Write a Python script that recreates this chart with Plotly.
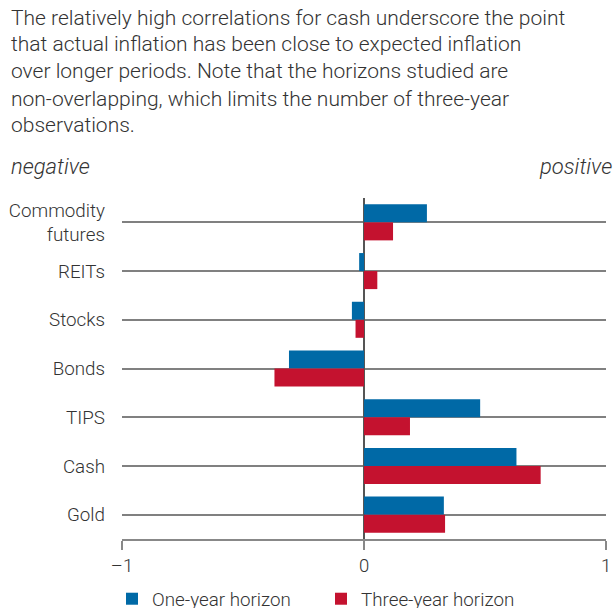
import plotly.graph_objects as go

# Correlation of asset-class returns with inflation, by horizon
categories = ["Commodity<br>futures", "REITs", "Stocks", "Bonds", "TIPS", "Cash", "Gold"]
one_year = [0.26, -0.02, -0.05, -0.31, 0.48, 0.63, 0.33]
three_year = [0.12, 0.055, -0.035, -0.37, 0.19, 0.73, 0.335]
series_names = ["One-year horizon", "Three-year horizon"]
x_ticks = [-1, 0, 1]
x_tick_text = ["\u20131", "0", "1"]

intro_lines = [
    "The relatively high correlations for cash underscore the point",
    "that actual inflation has been close to expected inflation",
    "over longer periods. Note that the horizons studied are",
    "non-overlapping, which limits the number of three-year",
    "observations.",
]

W, H = 616, 608
ML, MR, MT, MB = 122, 10, 198, 69
PW, PH = W - ML - MR, H - MT - MB

BLUE = "#0069A6"
RED = "#C4122F"
TEXT = "#333333"
FONT = "Roboto"
WEIGHT = 300


def px_x(p):
    return (p - ML) / PW


def px_y(p):
    return 1 - (p - MT) / PH


def font(size):
    return dict(family=FONT, size=size, color=TEXT, weight=WEIGHT)


fig = go.Figure()
fig.add_trace(go.Bar(y=categories, x=one_year, orientation="h", name=series_names[0],
                     marker=dict(color=BLUE, line=dict(width=0))))
fig.add_trace(go.Bar(y=categories, x=three_year, orientation="h", name=series_names[1],
                     marker=dict(color=RED, line=dict(width=0))))

annotations = []
for i, line in enumerate(intro_lines):
    annotations.append(dict(
        text=line, xref="paper", yref="paper", x=px_x(9), y=px_y(17.5 + i * 27),
        xanchor="left", yanchor="middle", showarrow=False, font=font(21)))
annotations.append(dict(
    text="<i>negative</i>", xref="paper", yref="paper", x=px_x(9), y=px_y(166),
    xanchor="left", yanchor="middle", showarrow=False, font=font(22)))
annotations.append(dict(
    text="<i>positive</i>", xref="paper", yref="paper", x=px_x(614), y=px_y(166),
    xanchor="right", yanchor="middle", showarrow=False, font=font(22)))

fig.update_layout(
    width=W, height=H,
    margin=dict(l=ML, r=MR, t=MT, b=MB, pad=0, autoexpand=False),
    paper_bgcolor="white", plot_bgcolor="white",
    barmode="group", bargap=0.26, bargroupgap=0,
    font=font(18.8),
    showlegend=True,
    legend=dict(orientation="h", xref="container", yref="container",
                x=112 / W, y=1 - 599 / H, xanchor="left", yanchor="middle",
                font=font(18.8),
                entrywidth=164, entrywidthmode="pixels", traceorder="normal",
                bgcolor="rgba(0,0,0,0)", itemclick=False),
    annotations=annotations,
)

fig.update_xaxes(
    range=[-1, 1], tickvals=x_ticks, ticktext=x_tick_text,
    showgrid=False, zeroline=True, zerolinecolor="#555555", zerolinewidth=1.5,
    showline=True, linecolor="#888888", linewidth=1.5,
    ticks="outside", ticklen=9, tickwidth=1.5, tickcolor="#888888",
    tickfont=font(18.5), fixedrange=True,
)
fig.update_yaxes(
    autorange="reversed", showgrid=True, gridcolor="#808080", gridwidth=1.5,
    showline=False, zeroline=False, ticks="", ticklabelstandoff=16,
    tickfont=font(18.8), fixedrange=True,
)

fig.write_html("out.html")
